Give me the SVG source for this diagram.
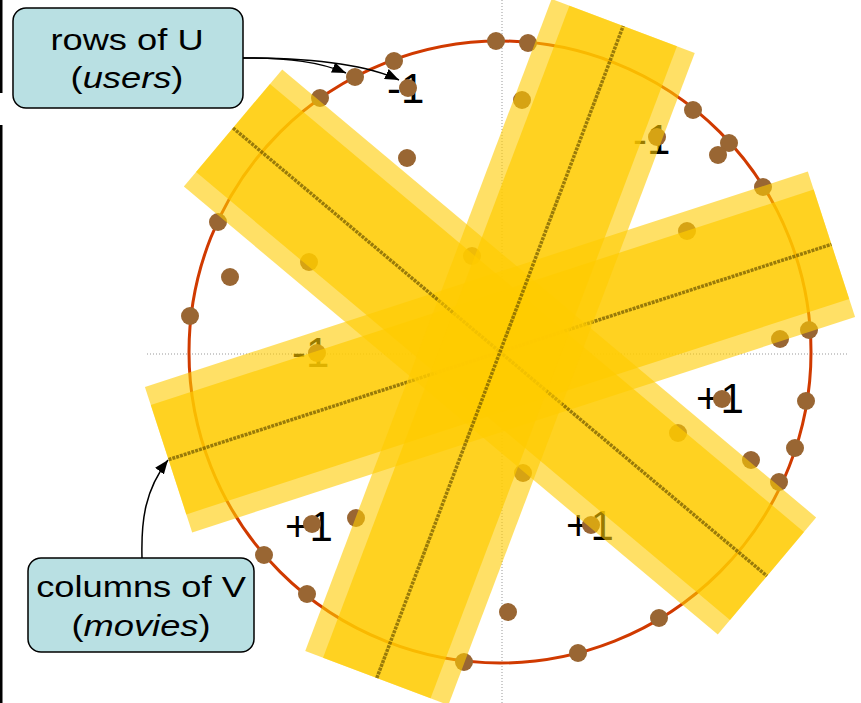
<svg xmlns="http://www.w3.org/2000/svg" width="861" height="703" viewBox="0 0 861 703">
<style>
  .axis { stroke: #999999; stroke-width: 1; stroke-dasharray: 1 2; fill: none; }
  .circ { stroke: #D03A00; stroke-width: 3; fill: none; }
  .dot { fill: #996633; }
  .num { font-family: "Liberation Sans", Arial, sans-serif; font-size: 42px; fill: #000000; }
  .outer { fill: #FFCC00; fill-opacity: 0.6; }
  .inner { fill: #FFCC00; fill-opacity: 0.68; }
  .axisline { stroke: #6E5600; stroke-width: 3.5; stroke-opacity: 0.7; stroke-dasharray: 3 1; }
  .box { fill: #B9E0E3; stroke: #000000; stroke-width: 1.5; }
  .lbl { font-family: "Liberation Sans", Arial, sans-serif; font-size: 30px; fill: #000000; text-anchor: middle; }
  .conn { stroke: #000000; stroke-width: 1.5; fill: none; marker-end: url(#arrow); }
</style>
<defs>
  <marker id="arrow" markerUnits="userSpaceOnUse" markerWidth="15" markerHeight="11" refX="14" refY="5.5" orient="auto">
    <path d="M0,0 L14,5.5 L0,11 z" fill="#000000"/>
  </marker>
</defs>
<rect width="861" height="703" fill="#FFFFFF"/>
<g id="frame-edge">
  <rect x="0" y="0" width="2.5" height="93" fill="#000000"/>
  <rect x="0" y="125" width="2.5" height="578" fill="#000000"/>
</g>
<g id="axes">
  <line class="axis" x1="147" y1="354" x2="849" y2="354"/>
  <line class="axis" x1="502" y1="0" x2="502" y2="703"/>
</g>
<g id="unit-circle">
  <circle class="circ" cx="500" cy="352" r="311"/>
</g>
<g id="sign-labels">
  <text class="num" x="387" y="103">-1</text>
  <text class="num" x="633" y="154">-1</text>
  <text class="num" x="292" y="367">-1</text>
  <text class="num" x="696" y="413">+1</text>
  <text class="num" x="285" y="541">+1</text>
  <text class="num" x="566" y="540">+1</text>
</g>
<g id="points">
  <circle class="dot" cx="496" cy="41" r="9"/>
  <circle class="dot" cx="528" cy="43" r="9"/>
  <circle class="dot" cx="394" cy="61" r="9"/>
  <circle class="dot" cx="355" cy="77" r="9"/>
  <circle class="dot" cx="320" cy="98" r="9"/>
  <circle class="dot" cx="218" cy="222" r="9"/>
  <circle class="dot" cx="190" cy="316" r="9"/>
  <circle class="dot" cx="693" cy="110" r="9"/>
  <circle class="dot" cx="729" cy="143" r="9"/>
  <circle class="dot" cx="763" cy="187" r="9"/>
  <circle class="dot" cx="809" cy="330" r="9"/>
  <circle class="dot" cx="806" cy="401" r="9"/>
  <circle class="dot" cx="795" cy="448" r="9"/>
  <circle class="dot" cx="779" cy="482" r="9"/>
  <circle class="dot" cx="659" cy="618" r="9"/>
  <circle class="dot" cx="578" cy="653" r="9"/>
  <circle class="dot" cx="464" cy="662" r="9"/>
  <circle class="dot" cx="307" cy="594" r="9"/>
  <circle class="dot" cx="264" cy="555" r="9"/>
  <circle class="dot" cx="408" cy="88" r="9"/>
  <circle class="dot" cx="407" cy="158" r="9"/>
  <circle class="dot" cx="522" cy="100" r="9"/>
  <circle class="dot" cx="657" cy="137" r="9"/>
  <circle class="dot" cx="718" cy="155" r="9"/>
  <circle class="dot" cx="687" cy="231" r="9"/>
  <circle class="dot" cx="230" cy="277" r="9"/>
  <circle class="dot" cx="309" cy="262" r="9"/>
  <circle class="dot" cx="317" cy="353" r="9"/>
  <circle class="dot" cx="472" cy="256" r="9"/>
  <circle class="dot" cx="780" cy="339" r="9"/>
  <circle class="dot" cx="722" cy="399" r="9"/>
  <circle class="dot" cx="678" cy="433" r="9"/>
  <circle class="dot" cx="751" cy="460" r="9"/>
  <circle class="dot" cx="523" cy="473" r="9"/>
  <circle class="dot" cx="591" cy="525" r="9"/>
  <circle class="dot" cx="508" cy="612" r="9"/>
  <circle class="dot" cx="312" cy="524" r="9"/>
  <circle class="dot" cx="356" cy="518" r="9"/>
</g>
<g id="band-shallow" transform="translate(500,352) rotate(-18)">
  <rect class="outer" x="-348.5" y="-76.5" width="697" height="153"/>
  <rect class="inner" x="-348.5" y="-57.5" width="697" height="115"/>
  <line class="axisline" x1="-348.5" y1="0" x2="348.5" y2="0"/>
</g>
<g id="band-diagonal" transform="translate(500,352) rotate(40)">
  <rect class="outer" x="-348.5" y="-76.5" width="697" height="153"/>
  <rect class="inner" x="-348.5" y="-57.5" width="697" height="115"/>
  <line class="axisline" x1="-348.5" y1="0" x2="348.5" y2="0"/>
</g>
<g id="band-steep" transform="translate(500,352) rotate(-69.3)">
  <rect class="outer" x="-348.5" y="-76.5" width="697" height="153"/>
  <rect class="inner" x="-348.5" y="-57.5" width="697" height="115"/>
  <line class="axisline" x1="-348.5" y1="0" x2="348.5" y2="0"/>
</g>
<g id="callout-users">
  <rect class="box" x="13" y="8" width="230" height="100" rx="13" ry="13"/>
  <text class="lbl" transform="translate(127,50) scale(1.21,1)">rows of U</text>
  <text class="lbl" transform="translate(127,88) scale(1.21,1)">(<tspan font-style="italic">users</tspan>)</text>
</g>
<g id="callout-movies">
  <rect class="box" x="28" y="558" width="226" height="94" rx="13" ry="13"/>
  <text class="lbl" transform="translate(141,597) scale(1.21,1)">columns of V</text>
  <text class="lbl" transform="translate(141,636) scale(1.21,1)">(<tspan font-style="italic">movies</tspan>)</text>
</g>
<g id="connectors">
  <path class="conn" d="M243,58 C290,58 320,62 346,73"/>
  <path class="conn" d="M243,58 C310,58 365,64 399,80"/>
  <path class="conn" d="M142,558 C141,520 145,490 168,460"/>
</g>
</svg>
